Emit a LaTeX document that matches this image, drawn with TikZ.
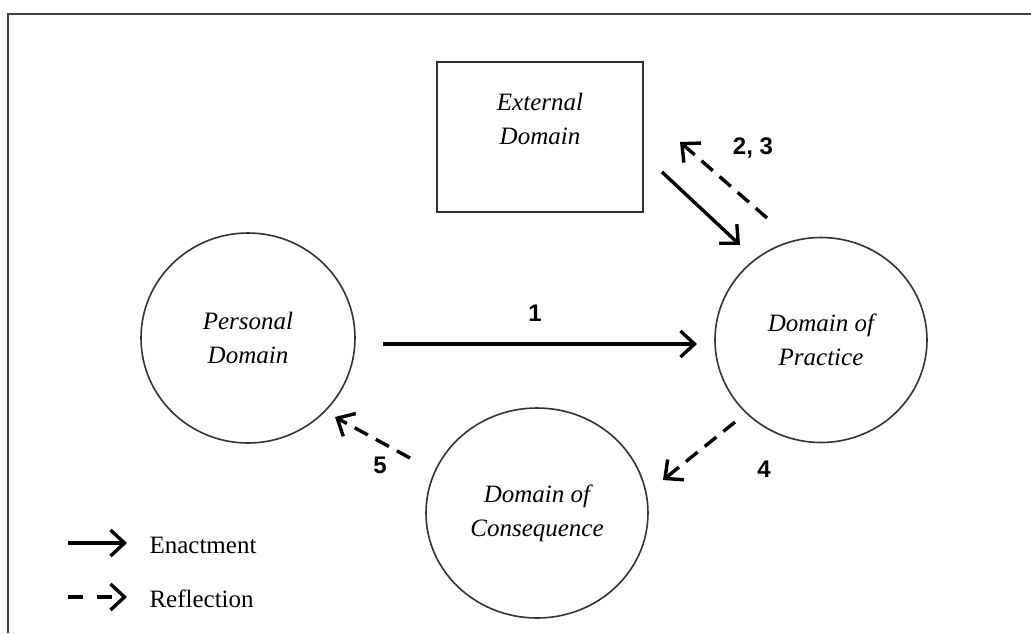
\documentclass[tikz,border=0pt]{standalone}
\usepackage{fontspec}
\setmainfont{Liberation Serif}
\newfontfamily\labelfont{Liberation Sans}
\usetikzlibrary{arrows.meta,shapes.geometric}

\begin{document}
\begin{tikzpicture}[x=1pt, y=-1pt,
    domainnode/.style={draw=black!80, line width=1.6pt, ellipse, inner sep=0pt, align=center,
                   font=\fontsize{25}{34}\selectfont\itshape},
    enact/.style={line width=3.4pt, -{Straight Barb[length=14pt, width=26pt]}},
    reflect/.style={enact, dash pattern=on 15pt off 9pt},
    steplabel/.style={font=\labelfont\bfseries\fontsize{24}{28}\selectfont},
    keytext/.style={anchor=west, font=\fontsize{25}{30}\selectfont}]
    \useasboundingbox (0,0) rectangle (1031,633);
    \draw[line width=2pt, black!75] (8,633) -- (8,14) -- (1031,14);

    \node[draw=black!80, line width=1.6pt, minimum width=206pt, minimum height=150pt] (ext) at (540,137) {};
    \node[align=center, font=\fontsize{25}{34}\selectfont\itshape] (exttxt) at (540,119) {External\\Domain};

    \node[domainnode, minimum width=214pt, minimum height=210pt] (personal)    at (248,338) {Personal\\Domain};
    \node[domainnode, minimum width=212pt, minimum height=205pt] (practice)    at (821,340) {Domain of\\Practice};
    \node[domainnode, minimum width=222pt, minimum height=210pt] (consequence) at (537,513) {Domain of\\Consequence};

    \coordinate (A1s) at (383, 344);
    \coordinate (A1e) at (697, 344);
    \coordinate (A2s) at (662, 172);
    \coordinate (A2e) at (740, 245);
    \coordinate (A3s) at (767, 218);
    \coordinate (A3e) at (680, 142);
    \coordinate (A4s) at (735, 422);
    \coordinate (A4e) at (663, 480);
    \coordinate (A5s) at (410, 458);
    \coordinate (A5e) at (335, 417);

    \draw[enact]   (A1s) -- (A1e);
    \draw[enact]   (A2s) -- (A2e);
    \draw[reflect] (A3s) -- (A3e);
    \draw[reflect] (A4s) -- (A4e);
    \draw[reflect] (A5s) -- (A5e);

    \node[steplabel] (L1)  at (535, 313) {1};
    \node[steplabel] (L23) at (753, 148) {2, 3};
    \node[steplabel] (L4)  at (764, 469) {4};
    \node[steplabel] (L5)  at (380, 465) {5};

    \coordinate (K1s) at ( 68, 543);
    \coordinate (K1e) at (127, 543);
    \coordinate (K2s) at ( 68, 597);
    \coordinate (K2e) at (127, 597);
    \draw[enact]   (K1s) -- (K1e);
    \draw[reflect, dash pattern=on 15pt off 14pt] (K2s) -- (K2e);
    \node[keytext] (K1t) at (146, 545) {Enactment};
    \node[keytext] (K2t) at (146, 599) {Reflection};

\end{tikzpicture}
\end{document}
